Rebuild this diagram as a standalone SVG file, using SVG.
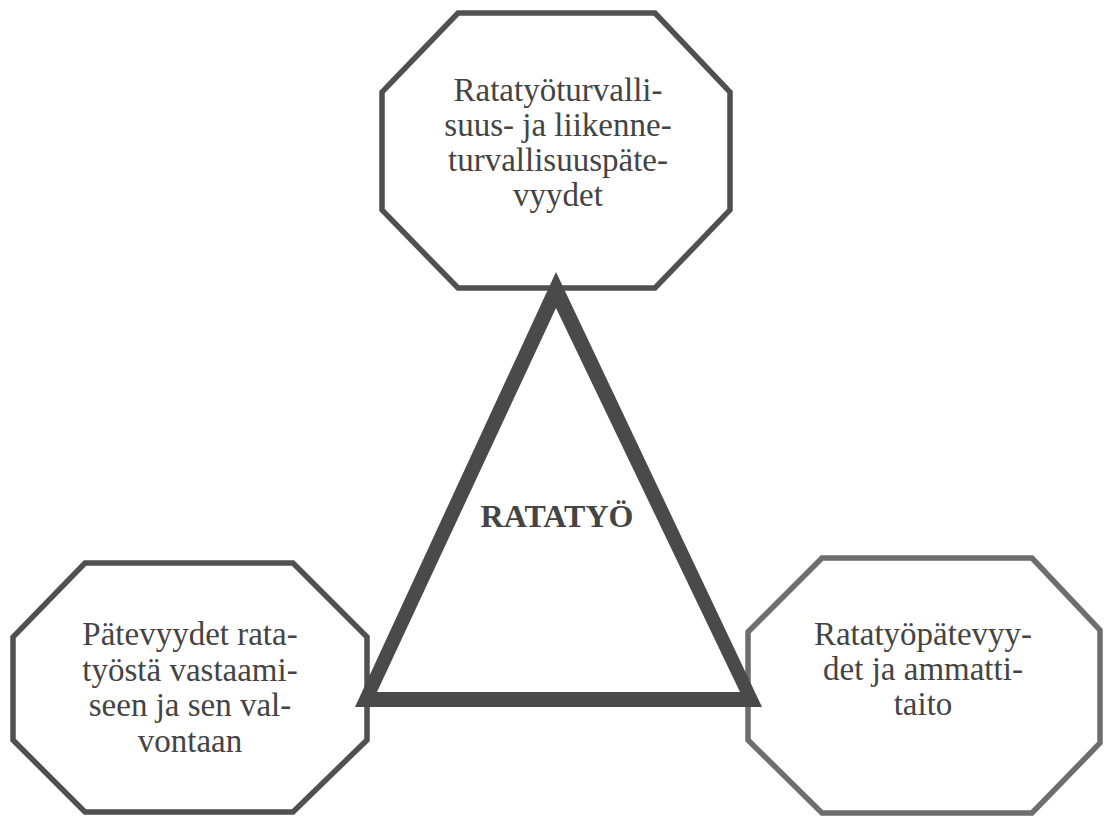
<svg xmlns="http://www.w3.org/2000/svg" width="1107" height="817" viewBox="0 0 1107 817">
<style>
.oct{fill:#fff;stroke:#505050;stroke-width:5.5;stroke-linejoin:miter}
.oct-r{stroke:#6e6e6e}
.lbl{font-family:"Liberation Serif","Times New Roman",serif;font-size:33px;fill:#444;text-anchor:middle}
.title{font-family:"Liberation Serif","Times New Roman",serif;font-size:32px;font-weight:bold;fill:#444;text-anchor:middle}
.tri{fill:#4a4a4a;fill-rule:evenodd}
</style>
<rect width="1107" height="817" fill="#fff"/>
<g id="node-top">
<polygon class="oct" points="458,13 655,13 730,92 730,210 655,288 458,288 382,210 382,92"/>
<text class="lbl" x="558" y="101">Ratatyöturvalli-</text>
<text class="lbl" x="558" y="136">suus- ja liikenne-</text>
<text class="lbl" x="558" y="171">turvallisuuspäte-</text>
<text class="lbl" x="558" y="206">vyydet</text>
</g>
<g id="node-left">
<polygon class="oct" points="85,563 293,563 367,637 367,740 293,812 85,812 13,740 13,637"/>
<text class="lbl" x="190" y="645">Pätevyydet rata-</text>
<text class="lbl" x="190" y="681">työstä vastaami-</text>
<text class="lbl" x="190" y="716">seen ja sen val-</text>
<text class="lbl" x="190" y="752">vontaan</text>
</g>
<g id="node-right">
<polygon class="oct oct-r" points="822,558 1032,558 1100,630 1100,743 1032,813 822,813 748,740 748,632"/>
<text class="lbl" x="923" y="645">Ratatyöpätevyy-</text>
<text class="lbl" x="923" y="680">det ja ammatti-</text>
<text class="lbl" x="923" y="715">taito</text>
</g>
<g id="connectors"></g>
<g id="node-center">
<path class="tri" d="M556,272 L762,707 L355,707 Z M556,308 L377,692 L740,692 Z"/>
<text class="title" x="557" y="527">RATATYÖ</text>
</g>
</svg>
